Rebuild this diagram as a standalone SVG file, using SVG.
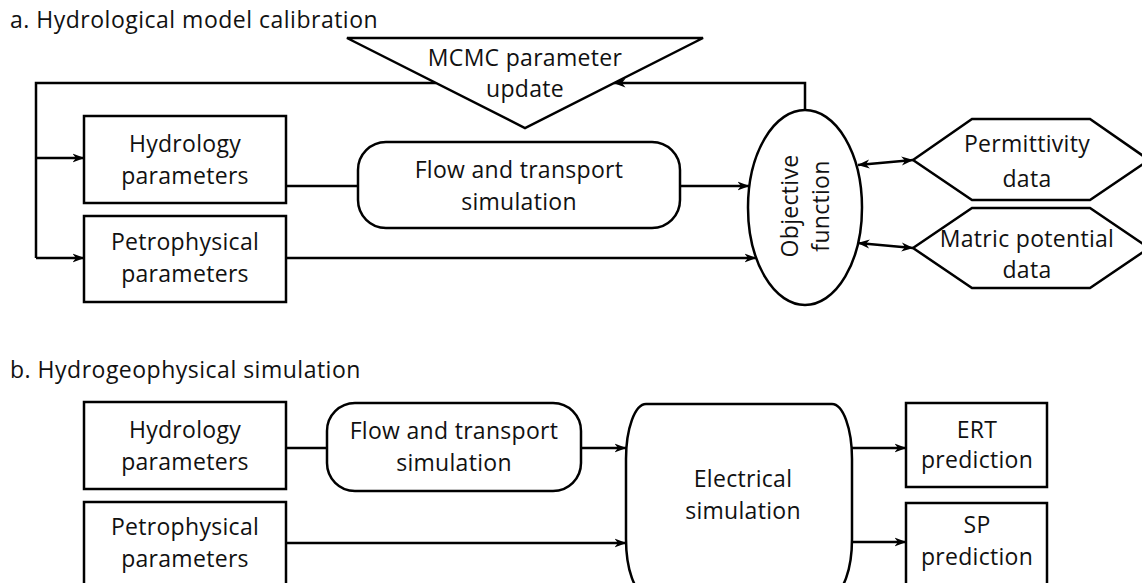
<svg xmlns="http://www.w3.org/2000/svg" width="1142" height="583" viewBox="0 0 1142 583">
  <style>
    .shape { fill: #ffffff; stroke: #000000; stroke-width: 2.5; }
    .line { fill: none; stroke: #000000; stroke-width: 2.5; }
    .arrow { marker-end: url(#head); }
    .both { marker-start: url(#head); marker-end: url(#head); }
    text { font-family: "Open Sans", "Noto Sans", "Liberation Sans", sans-serif; font-size: 23px; letter-spacing: 0.3px; fill: #111111; }
    .title { letter-spacing: 0.5px; }
    .c { text-anchor: middle; }
  </style>
  <defs>
    <marker id="head" viewBox="0 0 12 10" refX="11.5" refY="5" markerWidth="12" markerHeight="10" markerUnits="userSpaceOnUse" orient="auto-start-reverse">
      <path d="M0,0.5 L12,5 L0,9.5 L3.5,5 Z" fill="#000000"/>
    </marker>
  </defs>

  <!-- Section titles -->
  <text class="title" x="10" y="28">a. Hydrological model calibration</text>
  <text class="title" x="10" y="378">b. Hydrogeophysical simulation</text>

  <!-- Connectors -->
  <g id="connectors">
    <!-- a: calibration loop -->
    <polyline class="line arrow" points="805,110 805,83 614,83"/>
    <polyline class="line" points="436,83 36,83 36,258"/>
    <line class="line arrow" x1="36" y1="158" x2="84" y2="158"/>
    <line class="line arrow" x1="36" y1="258" x2="84" y2="258"/>
    <line class="line" x1="286" y1="186" x2="358" y2="186"/>
    <line class="line arrow" x1="680" y1="186" x2="749" y2="186"/>
    <line class="line arrow" x1="286" y1="258" x2="756" y2="258"/>
    <line class="line both" x1="858" y1="165" x2="913" y2="160"/>
    <line class="line both" x1="858" y1="243" x2="913" y2="248"/>
    <!-- b: forward simulation -->
    <line class="line" x1="286" y1="448" x2="327" y2="448"/>
    <line class="line arrow" x1="581" y1="448" x2="626" y2="448"/>
    <line class="line arrow" x1="286" y1="543" x2="626" y2="543"/>
    <line class="line arrow" x1="852" y1="448" x2="906" y2="448"/>
    <line class="line arrow" x1="852" y1="542" x2="906" y2="542"/>
  </g>

  <!-- a. Hydrological model calibration -->
  <g id="mcmc-update">
    <polygon class="shape" points="347,38 703,38 525,128"/>
    <text class="c" x="525" y="66">MCMC parameter</text>
    <text class="c" x="525" y="97">update</text>
  </g>
  <g id="a-hydrology-parameters">
    <rect class="shape" x="84" y="116" width="202" height="87"/>
    <text class="c" x="185" y="152">Hydrology</text>
    <text class="c" x="185" y="184">parameters</text>
  </g>
  <g id="a-petrophysical-parameters">
    <rect class="shape" x="84" y="216" width="202" height="86"/>
    <text class="c" x="185" y="250">Petrophysical</text>
    <text class="c" x="185" y="282">parameters</text>
  </g>
  <g id="a-flow-transport">
    <rect class="shape" x="358" y="142" width="322" height="86" rx="28" ry="28"/>
    <text class="c" x="519" y="178">Flow and transport</text>
    <text class="c" x="519" y="210">simulation</text>
  </g>
  <g id="objective-function">
    <ellipse class="shape" cx="805" cy="207.5" rx="57" ry="97.5"/>
    <text class="c" transform="translate(798,206) rotate(-90)">Objective</text>
    <text class="c" transform="translate(829,206) rotate(-90)">function</text>
  </g>
  <g id="permittivity-data">
    <polygon class="shape" points="913,160 972,119 1090,119 1149,160 1090,200 972,200"/>
    <text class="c" x="1027" y="152">Permittivity</text>
    <text class="c" x="1027" y="187">data</text>
  </g>
  <g id="matric-potential-data">
    <polygon class="shape" points="913,248 972,208 1090,208 1149,248 1090,288 972,288"/>
    <text class="c" x="1027" y="247">Matric potential</text>
    <text class="c" x="1027" y="278">data</text>
  </g>

  <!-- b. Hydrogeophysical simulation -->
  <g id="b-hydrology-parameters">
    <rect class="shape" x="84" y="402" width="202" height="87"/>
    <text class="c" x="185" y="438">Hydrology</text>
    <text class="c" x="185" y="470">parameters</text>
  </g>
  <g id="b-petrophysical-parameters">
    <rect class="shape" x="84" y="502" width="202" height="100"/>
    <text class="c" x="185" y="535">Petrophysical</text>
    <text class="c" x="185" y="567">parameters</text>
  </g>
  <g id="b-flow-transport">
    <rect class="shape" x="327" y="403" width="254" height="88" rx="28" ry="28"/>
    <text class="c" x="454" y="439">Flow and transport</text>
    <text class="c" x="454" y="471">simulation</text>
  </g>
  <g id="electrical-simulation">
    <rect class="shape" x="626" y="404" width="226" height="190" rx="20" ry="55"/>
    <text class="c" x="743" y="487">Electrical</text>
    <text class="c" x="743" y="519">simulation</text>
  </g>
  <g id="ert-prediction">
    <rect class="shape" x="906" y="403" width="141" height="84"/>
    <text class="c" x="977" y="438">ERT</text>
    <text class="c" x="977" y="468">prediction</text>
  </g>
  <g id="sp-prediction">
    <rect class="shape" x="906" y="503" width="141" height="100"/>
    <text class="c" x="977" y="533">SP</text>
    <text class="c" x="977" y="565">prediction</text>
  </g>
</svg>
